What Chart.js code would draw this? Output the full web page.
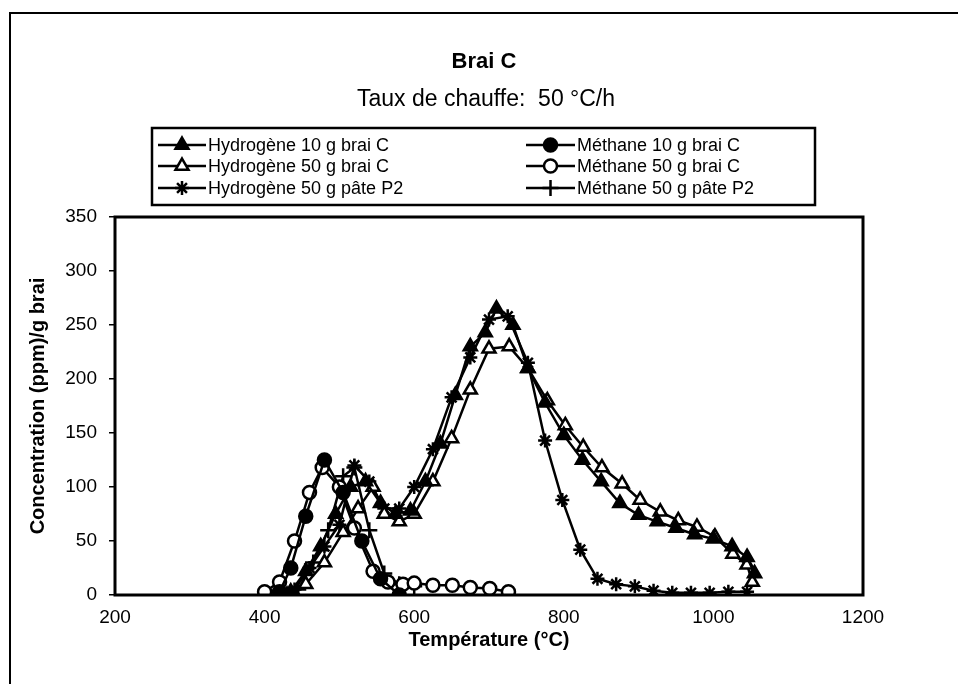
<!DOCTYPE html>
<html><head><meta charset="utf-8">
<script src="https://cdn.jsdelivr.net/npm/chart.js@4/dist/chart.umd.min.js"></script>
<style>html,body{margin:0;padding:0;background:#fff;}canvas{display:block;}</style>
</head><body>
<canvas id="c" width="958" height="684"></canvas>
<script>
const FONT = '"Liberation Sans", Arial, Helvetica, sans-serif';
const chartTitle = 'Brai C';
const chartSubtitle = 'Taux de chauffe:  50 °C/h';
const xAxisTitle = 'Température (°C)';
const yAxisTitle = 'Concentration (ppm)/g brai';
const xTickValues = [200, 400, 600, 800, 1000, 1200];
const yTickValues = [0, 50, 100, 150, 200, 250, 300, 350];

const seriesLabels = [
  'Hydrogène 10 g brai C', 'Hydrogène 50 g brai C', 'Hydrogène 50 g pâte P2',
  'Méthane 10 g brai C', 'Méthane 50 g brai C', 'Méthane 50 g pâte P2'
];

// Hydrogène 10 g brai C (filled triangles)
const h10Temp = [435,455,475,495,515,535,555,575,595,615,635,655,675,695,710,732,752,775,800,825,850,875,900,925,950,975,1000,1025,1045,1055];
const h10Conc = [3,22,45,75,100,105,85,75,78,105,140,185,230,243,265,250,210,178,148,125,105,85,74,68,62,56,52,45,35,20];

// Hydrogène 50 g brai C (open triangles)
const h50Temp = [430,455,480,505,525,545,560,580,600,625,650,675,700,727,752,778,802,826,851,878,902,929,953,978,1002,1026,1045,1052];
const h50Conc = [0,10,30,58,80,100,75,68,75,105,145,190,228,230,210,180,157,137,118,103,88,77,69,63,54,38,28,12];

// Hydrogène 50 g pâte P2 (asterisks)
const hp2Temp = [440,460,480,500,520,540,560,580,600,625,650,675,700,725,752,775,798,822,845,870,895,920,945,970,995,1020,1045];
const hp2Conc = [5,25,45,65,120,105,80,80,100,135,183,220,255,258,215,143,88,42,15,10,8,4,2,2,2,3,3];

// Méthane 10 g brai C (filled circles)
const m10Temp = [420,435,455,480,505,530,555,580];
const m10Conc = [3,25,73,125,95,50,15,0];

// Méthane 50 g brai C (open circles)
const m50Temp = [400,420,440,460,477,500,520,545,565,585,600,625,651,675,701,726];
const m50Conc = [3,12,50,95,118,100,62,22,12,10,11,9,9,7,6,3];

// Méthane 50 g pâte P2 (plus)
const mp2Temp = [445,465,485,505,520,540,560,580,600];
const mp2Conc = [5,30,60,110,118,60,20,10,8];

function pts(xs, ys) { return xs.map((x, i) => ({x: x, y: ys[i]})); }

const markerDefs = [
  {style: 'triangle', fill: '#000', r: 7.5},
  {style: 'triangle', fill: '#fff', r: 7.5},
  {style: 'star', fill: '#000', r: 7},
  {style: 'circle', fill: '#000', r: 6.5},
  {style: 'circle', fill: '#fff', r: 6.5},
  {style: 'cross', fill: '#000', r: 8}
];
const seriesData = [
  pts(h10Temp, h10Conc), pts(h50Temp, h50Conc), pts(hp2Temp, hp2Conc),
  pts(m10Temp, m10Conc), pts(m50Temp, m50Conc), pts(mp2Temp, mp2Conc)
];

const datasets = seriesLabels.map((lab, i) => ({
  label: lab,
  data: seriesData[i],
  showLine: true,
  borderColor: '#000',
  borderWidth: 2.5,
  tension: 0,
  pointStyle: markerDefs[i].style,
  pointRadius: markerDefs[i].r,
  pointBackgroundColor: markerDefs[i].fill,
  pointBorderColor: '#000',
  pointBorderWidth: 2.5
}));

function drawMarker(ctx, def, x, y) {
  ctx.save();
  ctx.fillStyle = def.fill;
  ctx.strokeStyle = '#000';
  ctx.lineWidth = 2.5;
  if (Chart.helpers && Chart.helpers.drawPoint) {
    Chart.helpers.drawPoint(ctx, {pointStyle: def.style, radius: def.r, borderWidth: 2.5, rotation: 0}, x, y);
  }
  ctx.restore();
}

const framePlugin = {
  id: 'frame',
  afterDraw(chart) {
    const ctx = chart.ctx;
    const a = chart.chartArea;
    ctx.save();
    ctx.strokeStyle = '#000';
    ctx.lineWidth = 2;
    ctx.beginPath();
    ctx.moveTo(958, 13); ctx.lineTo(10, 13); ctx.lineTo(10, 684);
    ctx.stroke();
    ctx.lineWidth = 3;
    ctx.strokeRect(a.left, a.top, a.right - a.left, a.bottom - a.top);
    ctx.fillStyle = '#000';
    ctx.textAlign = 'center';
    ctx.textBaseline = 'middle';
    ctx.font = 'bold 22px ' + FONT;
    ctx.fillText(chartTitle, 484, 62);
    ctx.font = '23px ' + FONT;
    ctx.fillText(chartSubtitle, 486, 100);
    ctx.lineWidth = 2.5;
    ctx.strokeRect(152, 128, 663, 77);
    const rows = [145, 166, 188];
    const cols = [{l0: 158, l1: 206, tx: 208}, {l0: 526, l1: 575, tx: 577}];
    ctx.font = '18px ' + FONT;
    ctx.textAlign = 'left';
    seriesLabels.forEach((lab, i) => {
      const c = cols[Math.floor(i / 3)];
      const y = rows[i % 3];
      ctx.strokeStyle = '#000';
      ctx.lineWidth = 2.5;
      ctx.beginPath(); ctx.moveTo(c.l0, y); ctx.lineTo(c.l1, y); ctx.stroke();
      drawMarker(ctx, markerDefs[i], (c.l0 + c.l1) / 2, y);
      ctx.fillStyle = '#000';
      ctx.fillText(lab, c.tx, y + 1);
    });
    ctx.restore();
  }
};

new Chart(document.getElementById('c'), {
  type: 'scatter',
  data: {datasets: datasets},
  plugins: [framePlugin],
  options: {
    responsive: false,
    animation: false,
    devicePixelRatio: 1,
    layout: {padding: {left: 10, right: 95, top: 217, bottom: 20}},
    plugins: {legend: {display: false}, title: {display: false}, tooltip: {enabled: false}},
    scales: {
      x: {
        type: 'linear', min: xTickValues[0], max: xTickValues[xTickValues.length - 1],
        afterFit(s) { s.height = 69; },
        afterBuildTicks(s) { s.ticks = xTickValues.map(v => ({value: v})); },
        grid: {display: false},
        border: {display: false},
        ticks: {color: '#000', font: {family: FONT, size: 19}, padding: 3, maxRotation: 0, callback: v => String(v)},
        title: {display: true, text: xAxisTitle, color: '#000', font: {family: FONT, size: 20, weight: 'bold'}, padding: {top: 0, bottom: 12}}
      },
      y: {
        type: 'linear', min: yTickValues[0], max: yTickValues[yTickValues.length - 1],
        afterFit(s) { s.width = 105; },
        afterBuildTicks(s) { s.ticks = yTickValues.map(v => ({value: v})); },
        grid: {display: true, drawOnChartArea: false, drawTicks: true, tickLength: 6, color: '#000', lineWidth: 1.5},
        border: {display: false},
        ticks: {color: '#000', font: {family: FONT, size: 19}, padding: 12, callback: v => String(v)},
        title: {display: true, text: yAxisTitle, color: '#000', font: {family: FONT, size: 20, weight: 'bold'}, padding: {top: 16, bottom: 0}}
      }
    }
  }
});
</script>
</body></html>
